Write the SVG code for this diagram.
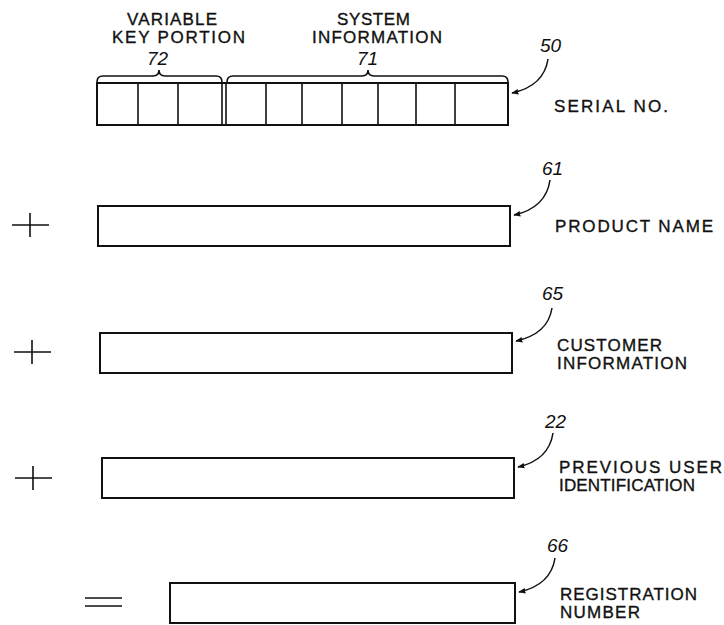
<svg xmlns="http://www.w3.org/2000/svg" width="724" height="625" viewBox="0 0 724 625">
<defs>
<marker id="ah" viewBox="0 0 10 10" refX="9" refY="5" markerWidth="7" markerHeight="7" orient="auto" markerUnits="userSpaceOnUse">
<path d="M0,1 L10,5 L0,9 Z" fill="#111"/>
</marker>
<style>
.box{fill:#fff;stroke:#111;stroke-width:2}
.ln{fill:none;stroke:#111;stroke-width:1.6}
.lbl{font-family:"Liberation Sans",Arial,sans-serif;font-size:17px;fill:#111;stroke:#111;stroke-width:0.35}
.ref{font-family:"Liberation Sans",Arial,sans-serif;font-size:19px;font-style:italic;fill:#111}
.lead{fill:none;stroke:#111;stroke-width:1.5;marker-end:url(#ah)}
</style>
</defs>
<rect width="724" height="625" fill="#fff"/>

<g id="serial">
<text class="lbl" x="127" y="25" textLength="90" lengthAdjust="spacing">VARIABLE</text>
<text class="lbl" x="112" y="43" textLength="133" lengthAdjust="spacing">KEY PORTION</text>
<text class="ref" x="147" y="65">72</text>
<text class="lbl" x="337" y="25" textLength="73" lengthAdjust="spacing">SYSTEM</text>
<text class="lbl" x="312" y="43" textLength="130" lengthAdjust="spacing">INFORMATION</text>
<text class="ref" x="357" y="65">71</text>
<path class="ln" d="M97,82 Q97,76 103,76 L153,76 Q159,76 159,70 Q159,76 165,76 L216,76 Q222,76 222,82"/>
<path class="ln" d="M227,82 Q227,76 233,76 L362,76 Q368,76 368,70 Q368,76 374,76 L502,76 Q508,76 508,82"/>
<rect class="box" x="97" y="83" width="411" height="42"/>
<path class="ln" d="M138,83 V125 M178,83 V125 M222,83 V125 M226,83 V125 M266,83 V125 M302,83 V125 M342,83 V125 M378,83 V125 M416,83 V125 M455,83 V125"/>
<text class="ref" x="540" y="52">50</text>
<text class="lbl" x="554" y="112" textLength="114" lengthAdjust="spacing">SERIAL NO.</text>
</g>

<g id="product">
<path class="ln" d="M12,225 H49 M30,213 V237"/>
<rect class="box" x="98" y="206" width="412" height="40"/>
<text class="ref" x="542" y="175">61</text>
<text class="lbl" x="555" y="232" textLength="158" lengthAdjust="spacing">PRODUCT NAME</text>
</g>

<g id="customer">
<path class="ln" d="M14,352 H51 M32,340 V364"/>
<rect class="box" x="100" y="333" width="412" height="40"/>
<text class="ref" x="542" y="300">65</text>
<text class="lbl" x="557" y="351" textLength="105" lengthAdjust="spacing">CUSTOMER</text>
<text class="lbl" x="557" y="369" textLength="130" lengthAdjust="spacing">INFORMATION</text>
</g>

<g id="previous">
<path class="ln" d="M15,478 H52 M33,466 V490"/>
<rect class="box" x="102" y="458" width="412" height="40"/>
<text class="ref" x="545" y="428">22</text>
<text class="lbl" x="559" y="473" textLength="163" lengthAdjust="spacing">PREVIOUS USER</text>
<text class="lbl" x="559" y="491" textLength="136" lengthAdjust="spacing">IDENTIFICATION</text>
</g>

<g id="registration">
<path class="ln" d="M85,598 H122 M85,606 H122"/>
<rect class="box" x="170" y="583" width="345" height="40"/>
<text class="ref" x="547" y="552">66</text>
<text class="lbl" x="560" y="600" textLength="137" lengthAdjust="spacing">REGISTRATION</text>
<text class="lbl" x="560" y="618" textLength="80" lengthAdjust="spacing">NUMBER</text>
</g>

<g id="connectors">
<path class="lead" d="M548,59 Q544,86 512,93"/>
<path class="lead" d="M550,180 Q546,208 514,215"/>
<path class="lead" d="M552,308 Q548,334 516,341"/>
<path class="lead" d="M553,433 Q549,460 518,467"/>
<path class="lead" d="M555,558 Q551,585 519,592"/>
</g>
</svg>
